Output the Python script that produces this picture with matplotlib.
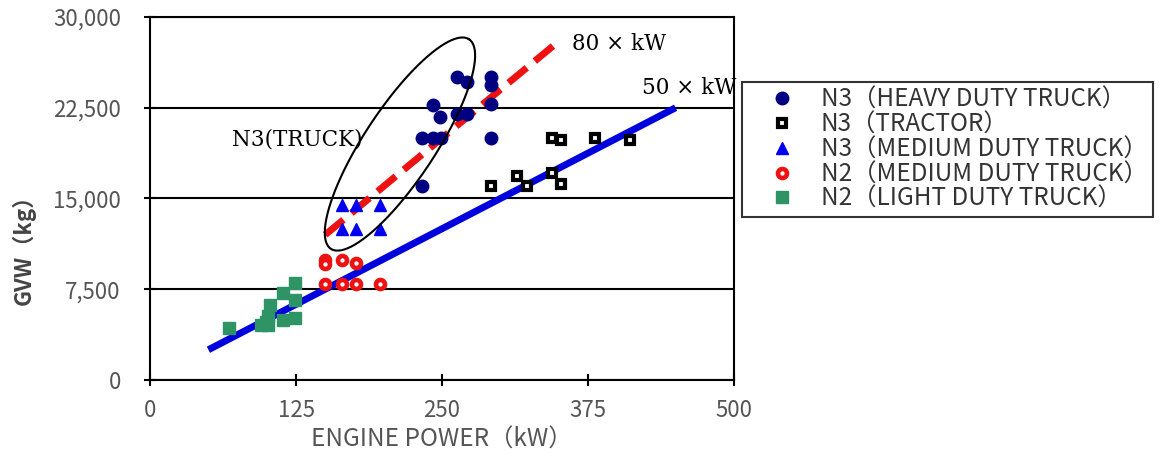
import numpy as np
import matplotlib
matplotlib.use("Agg")
import matplotlib.pyplot as plt

plt.rcParams['font.family'] = ['Noto Sans CJK JP', 'DejaVu Sans']

# N3 heavy duty truck
heavy_kw = [263, 271, 292, 292, 242, 248, 263, 271, 292, 233, 242, 249, 292, 233]
heavy_gvw = [25000, 24600, 25000, 24400, 22700, 21700, 22000, 22000, 22800, 20000, 20000, 20000, 20000, 16000]

# N3 tractor
tractor_kw = [344, 352, 381, 411, 314, 344, 292, 323, 352]
tractor_gvw = [20000, 19800, 20000, 19800, 16900, 17100, 16000, 16000, 16200]

# N3 medium duty truck
n3med_kw = [164, 176, 197, 164, 176, 197]
n3med_gvw = [14500, 14500, 14500, 12500, 12500, 12500]

# N2 medium duty truck
n2med_kw = [150, 150, 164, 176, 150, 164, 176, 197]
n2med_gvw = [9950, 9600, 9900, 9700, 7950, 7950, 7950, 7950]

# N2 light duty truck
light_kw = [68, 95, 99, 101, 101, 103, 114, 114, 124, 124, 124]
light_gvw = [4270, 4550, 4800, 4550, 5250, 6200, 4960, 7150, 7990, 6610, 5100]

line50_kw = [50, 450]
line80_kw = [150, 345]

fig = plt.figure(figsize=(11.59, 4.61), dpi=100)
ax = fig.add_axes([150 / 1159, 81 / 461, 584 / 1159, 363 / 461])

ax.plot(line50_kw, [50 * v for v in line50_kw], color='#0000dd', lw=5, solid_capstyle='butt', zorder=2)
ax.plot(line80_kw, [80 * v for v in line80_kw], color='#ee1111', lw=5, ls=(0, (3.4, 1.5)),
        dash_capstyle='butt', zorder=2)

ax.plot(heavy_kw, heavy_gvw, 'o', color='#000080', ms=9, ls='none', zorder=3,
        label='N3（HEAVY DUTY TRUCK）')
ax.plot(tractor_kw, tractor_gvw, 's', mfc='white', mec='black', mew=3, ms=6.3, ls='none', zorder=3,
        label='N3（TRACTOR）')
ax.plot(n3med_kw, n3med_gvw, '^', color='#0000ee', ms=9, ls='none', zorder=3,
        label='N3（MEDIUM DUTY TRUCK）')
ax.plot(n2med_kw, n2med_gvw, 'o', mfc='white', mec='#ee1111', mew=3.3, ms=6.5, ls='none', zorder=3,
        label='N2（MEDIUM DUTY TRUCK）')
ax.plot(light_kw, light_gvw, 's', color='#2e9466', ms=8.5, ls='none', zorder=3,
        label='N2（LIGHT DUTY TRUCK）')

# ellipse around the N3 truck group
sx = 500 / 584.0   # kW per pixel
sy = 30000 / 363.0  # kg per pixel
t = np.linspace(0, 2 * np.pi, 200)
a, b, ang = 125.5, 35.5, np.deg2rad(56.6)
ex = a * np.cos(t) * np.cos(ang) - b * np.sin(t) * np.sin(ang)
ey = a * np.cos(t) * np.sin(ang) + b * np.sin(t) * np.cos(ang)
ax.plot(214 + ex * sx, 19500 + ey * sy, color='black', lw=1.5, zorder=4)

ax.text(70, 19900, 'N3(TRUCK)', family='DejaVu Serif', fontsize=15.5, va='center')
ax.text(361, 27770, '80 × kW', family='DejaVu Serif', fontsize=15.5, va='center')
ax.text(421, 24130, '50 × kW', family='DejaVu Serif', fontsize=15.5, va='center')

ax.set_xlim(0, 500)
ax.set_ylim(0, 30000)
ax.set_xticks([0, 125, 250, 375, 500])
ax.set_yticks([0, 7500, 15000, 22500, 30000])
ax.set_yticklabels(['0', '7,500', '15,000', '22,500', '30,000'])
ax.yaxis.grid(True, color='black', lw=1.5)
ax.set_axisbelow(True)
for s in ax.spines.values():
    s.set_linewidth(1.5)
ax.tick_params(direction='inout', length=8, width=1.5, labelsize=16, labelcolor='#555555')
ax.tick_params(axis='y', pad=17)
ax.tick_params(axis='x', pad=10)

ax.set_xlabel('ENGINE POWER（kW）', fontsize=17.5, color='#555555', labelpad=3)
ax.set_ylabel('GVW（kg）', fontsize=16, color='#444444', fontweight='semibold')
ax.yaxis.set_label_coords(-0.196, 0.375)

leg = fig.legend(loc='upper left', bbox_to_anchor=(742 / 1159, 1 - 82 / 461), fontsize=17.5,
                 frameon=True, fancybox=False, edgecolor='black', handletextpad=0.15,
                 borderpad=0.2, labelspacing=-0.05, handlelength=2.9, borderaxespad=0,
                 labelcolor='#333333')
leg.get_frame().set_linewidth(1.5)

fig.savefig('out.png', dpi=100)
